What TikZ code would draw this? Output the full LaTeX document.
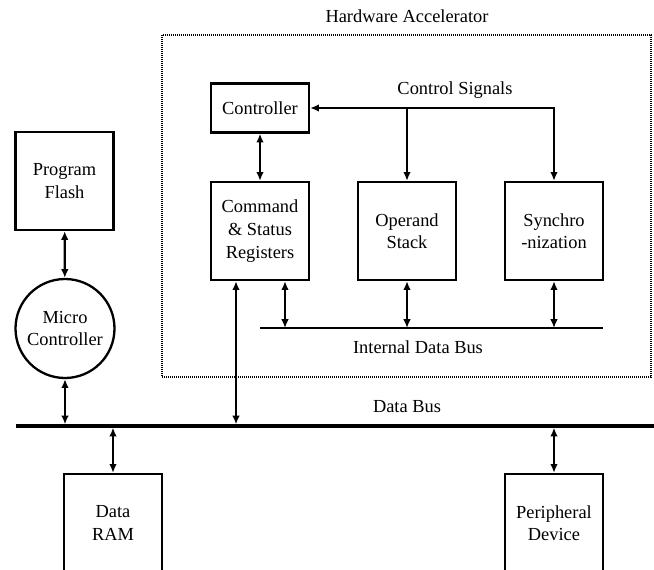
\documentclass[tikz,border=0pt]{standalone}
\usepackage{fontspec}
\setmainfont{Liberation Serif}
\usetikzlibrary{arrows.meta, positioning, calc}

\begin{document}
\begin{tikzpicture}[
    x=0.5pt, y=-0.5pt,
    every node/.style={font=\fontsize{9.2}{11.3}\selectfont},
    blockbox/.style={draw, line width=1.15pt, minimum width=49pt, minimum height=#1,
                     align=center, inner sep=0pt},
    blockbox/.default=49pt,
    bidir/.style={{Latex[length=4.4pt,width=3.8pt]}-{Latex[length=4.4pt,width=3.8pt]}, line width=1.05pt},
    bus/.style={line width=1.7pt},
]
    \clip (0,0) rectangle (654,569);

    % Hardware accelerator frame
    \draw[line width=0.6pt, dash pattern=on 0.5pt off 0.5pt] (162,35) rectangle (651,377);
    \node (hwtitle) at (407,16) {Hardware Accelerator};

    % Accelerator blocks
    \node[blockbox=24.5pt] (ctrl) at (260,108) {Controller};
    \node[blockbox] (cmd) at (260,231) {Command\\ \& Status\\ Registers};
    \node[blockbox] (ops) at (407,231) {Operand\\ Stack};
    \node[blockbox] (sync) at (554,231) {Synchro\\ -nization};

    % Control signals
    \draw[bidir] (ctrl.east) -- (sync.north |- ctrl.east) -- (sync.north);
    \draw[-{Latex[length=4.4pt,width=3.8pt]}, line width=1.05pt] (ops.north |- ctrl.east) -- (ops.north);
    \draw[bidir] (ctrl) -- (cmd);
    \node (cslabel) at (455,90) {Control Signals};

    % Internal data bus
    \coordinate (ibw) at (260,328);
    \coordinate (ibe) at (603,328);
    \draw[line width=1.1pt] (ibw) -- (ibe);
    \draw[bidir] ([xshift=12.5pt]cmd.south) -- ([xshift=12.5pt]cmd.south |- ibw);
    \draw[bidir] (ops.south) -- (ops.south |- ibw);
    \draw[bidir] (sync.south) -- (sync.south |- ibw);
    \node (iblabel) at (418,347) {Internal Data Bus};

    % Micro controller side
    \node[blockbox] (flash) at (64.5,181) {Program\\ Flash};
    \node[draw, circle, line width=1.15pt, minimum size=49.5pt, inner sep=0pt, align=center]
        (mcu) at (65,328.5) {Micro\\ Controller};
    \draw[bidir] (flash) -- (mcu);

    % Data bus
    \coordinate (dbw) at (16,426);
    \coordinate (dbe) at (654,426);
    \draw[bus] (dbw) -- (dbe);
    \node (dblabel) at (407,407) {Data Bus};
    \draw[bidir, shorten >=0.8pt] (mcu) -- (mcu |- dbw);
    \draw[bidir, shorten >=0.8pt] ([xshift=-12pt]cmd.south) -- ([xshift=-12pt]cmd.south |- dbw);

    % Memory and peripheral
    \node[blockbox] (ram) at (113,523) {Data\\ RAM};
    \node[blockbox] (periph) at (554,523) {Peripheral\\ Device};
    \draw[bidir, shorten <=0.8pt] (ram.north |- dbw) -- (ram.north);
    \draw[bidir, shorten <=0.8pt] (periph.north |- dbw) -- (periph.north);
\end{tikzpicture}
\end{document}
